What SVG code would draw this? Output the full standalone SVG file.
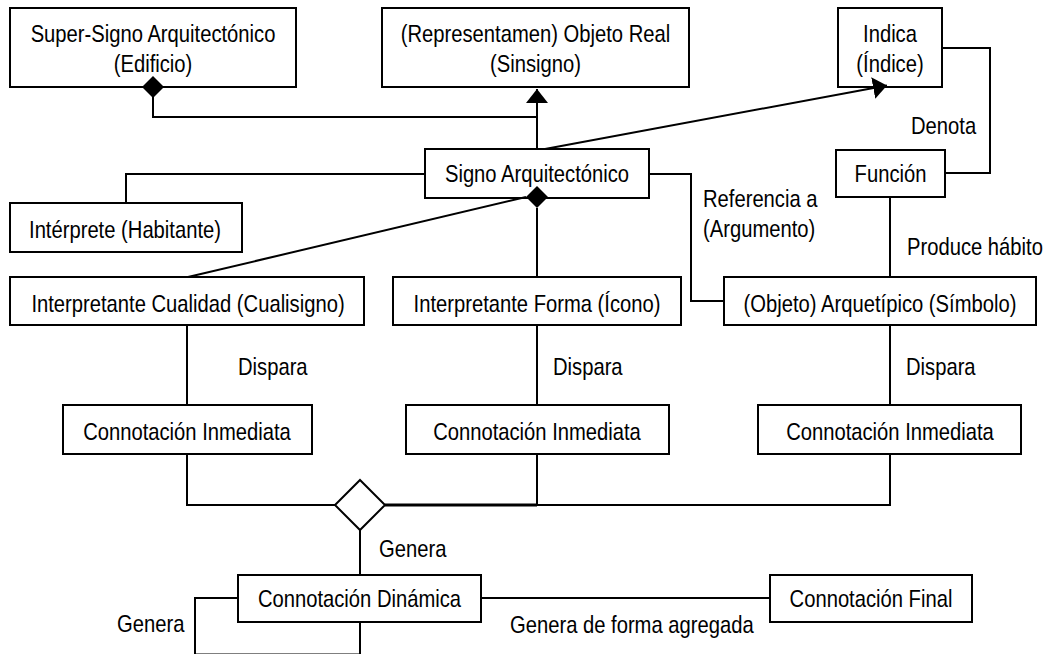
<svg xmlns="http://www.w3.org/2000/svg" width="1047" height="654" viewBox="0 0 1047 654">
<style>
.box{fill:#fff;stroke:#000;stroke-width:2}
.ln{fill:none;stroke:#000;stroke-width:2}
text{font-family:"Liberation Sans",Arial,sans-serif;font-size:24px;fill:#000}
.c{text-anchor:middle}
</style>
<defs>
<marker id="arr" markerUnits="userSpaceOnUse" markerWidth="16" markerHeight="24" refX="14" refY="11" orient="auto">
<path d="M0,0 L14,11 L0,22 Z" fill="#000"/>
</marker>
</defs>
<rect width="1047" height="654" fill="#fff"/>
<g id="super-signo"><rect class="box" x="10" y="8" width="286" height="79"/><text class="c" transform="matrix(0.842 0 0 1 153 42)">Super-Signo Arquitectónico</text><text class="c" transform="matrix(0.842 0 0 1 153 72)">(Edificio)</text></g>
<g id="objeto-real"><rect class="box" x="382" y="8" width="307" height="79"/><text class="c" transform="matrix(0.842 0 0 1 535.5 42)">(Representamen) Objeto Real</text><text class="c" transform="matrix(0.842 0 0 1 535.5 72)">(Sinsigno)</text></g>
<g id="indica"><rect class="box" x="838" y="8" width="104" height="79"/><text class="c" transform="matrix(0.842 0 0 1 890 42)">Indica</text><text class="c" transform="matrix(0.842 0 0 1 890 72)">(Índice)</text></g>
<g id="signo"><rect class="box" x="425" y="149" width="224" height="49"/><text class="c" transform="matrix(0.842 0 0 1 537 182)">Signo Arquitectónico</text></g>
<g id="funcion"><rect class="box" x="836" y="150" width="109" height="47"/><text class="c" transform="matrix(0.842 0 0 1 890.5 182)">Función</text></g>
<g id="interprete"><rect class="box" x="10" y="203" width="232" height="49"/><text class="c" transform="matrix(0.842 0 0 1 125 238)">Intérprete (Habitante)</text></g>
<g id="cualidad"><rect class="box" x="10" y="277" width="354" height="48"/><text class="c" transform="matrix(0.842 0 0 1 188 312)">Interpretante Cualidad (Cualisigno)</text></g>
<g id="forma"><rect class="box" x="393" y="277" width="288" height="48"/><text class="c" transform="matrix(0.842 0 0 1 537 312)">Interpretante Forma (Ícono)</text></g>
<g id="arquetipico"><rect class="box" x="724" y="277" width="312" height="48"/><text class="c" transform="matrix(0.842 0 0 1 880 312)">(Objeto) Arquetípico (Símbolo)</text></g>
<g id="ci1"><rect class="box" x="63" y="405" width="249" height="49"/><text class="c" transform="matrix(0.842 0 0 1 187 440)">Connotación Inmediata</text></g>
<g id="ci2"><rect class="box" x="406" y="405" width="263" height="49"/><text class="c" transform="matrix(0.842 0 0 1 537 440)">Connotación Inmediata</text></g>
<g id="ci3"><rect class="box" x="758" y="405" width="263" height="49"/><text class="c" transform="matrix(0.842 0 0 1 890 440)">Connotación Inmediata</text></g>
<g id="dinamica"><rect class="box" x="238" y="575" width="243" height="47"/><text class="c" transform="matrix(0.842 0 0 1 359.5 607)">Connotación Dinámica</text></g>
<g id="final"><rect class="box" x="770" y="575" width="202" height="47"/><text class="c" transform="matrix(0.842 0 0 1 871 607)">Connotación Final</text></g>
<g id="connectors">
<path class="ln" d="M153,87 V117 H537"/>
<path class="ln" d="M537,149 V89" marker-end="url(#arr)"/>
<path class="ln" d="M545,149 L887,85.4" marker-end="url(#arr)"/>
<path class="ln" d="M942,48 H990 V173 H945"/>
<path class="ln" d="M425,174 H126 V203"/>
<path class="ln" d="M649,174 H691 V301 H724"/>
<path class="ln" d="M188,277 L526,197"/>
<path class="ln" d="M537,208 V277"/>
<path class="ln" d="M890,197 V277"/>
<path class="ln" d="M187,325 V405"/>
<path class="ln" d="M537,325 V405"/>
<path class="ln" d="M890,325 V405"/>
<path class="ln" d="M187,454 V505 H335"/>
<path class="ln" d="M537,454 V505 H385"/>
<path class="ln" d="M890,454 V505 H385"/>
<path d="M385,505 H537" fill="none" stroke="#000" stroke-width="3"/>
<path class="ln" d="M360,530 V575"/>
<path class="ln" d="M481,598 H770"/>
<path class="ln" d="M238,598 H195 V654.5 H360 V622"/>
<path d="M153,76 L164,87 L153,98 L142,87 Z" fill="#000"/>
<path d="M537,186 L548,197 L537,208 L526,197 Z" fill="#000"/>
<path d="M360,480 L385,505 L360,530 L335,505 Z" fill="#fff" stroke="#000" stroke-width="2"/>
<text transform="matrix(0.842 0 0 1 911 134)">Denota</text>
<text transform="matrix(0.842 0 0 1 703 207)">Referencia a</text>
<text transform="matrix(0.842 0 0 1 703 237)">(Argumento)</text>
<text transform="matrix(0.842 0 0 1 907 255)">Produce hábito</text>
<text transform="matrix(0.842 0 0 1 238 375)">Dispara</text>
<text transform="matrix(0.842 0 0 1 553 375)">Dispara</text>
<text transform="matrix(0.842 0 0 1 906 375)">Dispara</text>
<text transform="matrix(0.842 0 0 1 379 557)">Genera</text>
<text transform="matrix(0.842 0 0 1 510 633)">Genera de forma agregada</text>
<text transform="matrix(0.842 0 0 1 117 632)">Genera</text>
</g>
</svg>
